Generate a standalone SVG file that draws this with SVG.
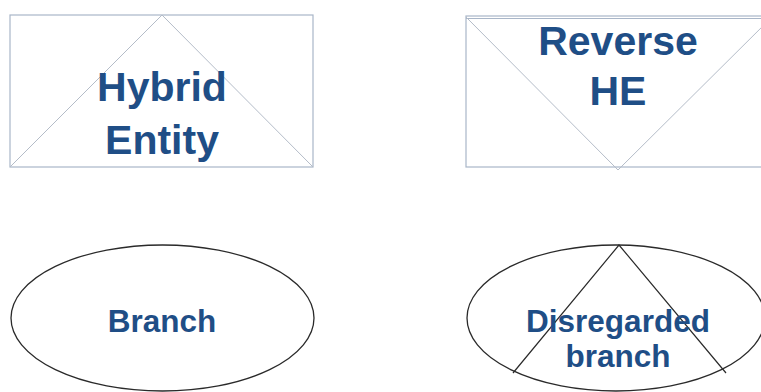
<svg xmlns="http://www.w3.org/2000/svg" width="761" height="392" viewBox="0 0 761 392">
  <style>
    .box { fill: #ffffff; stroke: #a9b6c8; stroke-width: 1.2; }
    .diag { fill: none; stroke: #b4bcc8; stroke-width: 1; }
    .oval { fill: #ffffff; stroke: #2a2a2a; stroke-width: 1.3; }
    .cut { fill: none; stroke: #2a2a2a; stroke-width: 1.2; }
    .label { font-family: "Liberation Sans", Arial, sans-serif; font-weight: bold; fill: #1f4e86; text-anchor: middle; }
    .big { font-size: 41px; }
    .mid { font-size: 31.5px; }
  </style>
  <rect width="761" height="392" fill="#ffffff"/>

  <g id="hybrid-entity">
    <rect class="box" x="10" y="15" width="303" height="152"/>
    <polyline class="diag" points="10,167 162,15 313,167"/>
    <text class="label big" x="162" y="101">Hybrid</text>
    <text class="label big" x="162" y="154">Entity</text>
  </g>

  <g id="reverse-he">
    <rect class="box" x="466" y="16" width="306" height="151"/>
    <line class="box" x1="466" y1="18.5" x2="772" y2="18.5"/>
    <polyline class="diag" points="466,17 618,170 772,17"/>
    <text class="label big" x="618" y="55">Reverse</text>
    <text class="label big" x="618" y="105">HE</text>
  </g>

  <g id="branch">
    <ellipse class="oval" cx="162.5" cy="318" rx="151.5" ry="73"/>
    <text class="label mid" x="162" y="332">Branch</text>
  </g>

  <g id="disregarded-branch">
    <ellipse class="oval" cx="616" cy="318" rx="149" ry="73"/>
    <polyline class="cut" points="513,373 619,245 726,373"/>
    <text class="label mid" x="618" y="332">Disregarded</text>
    <text class="label mid" x="618" y="367">branch</text>
  </g>

  <g id="connectors"/>
</svg>
